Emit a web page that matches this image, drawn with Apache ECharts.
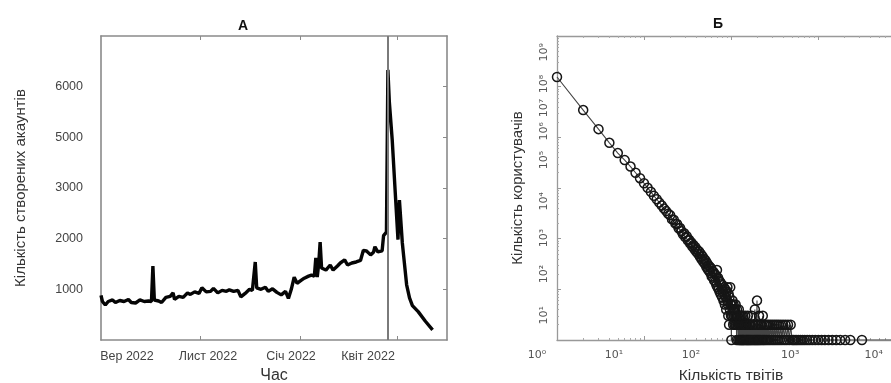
<!DOCTYPE html>
<html>
<head>
<meta charset="utf-8">
<script src="https://cdn.jsdelivr.net/npm/echarts@6/dist/echarts.min.js"></script>
<style>
  html, body { margin: 0; padding: 0; background: #fff; }
  #main { width: 891px; height: 383px; }
</style>
</head>
<body>
<div id="main"></div>
<script>
// ---- panel A: new accounts per day ----
var days = [0,1,3,5,8,10,13,16,19,21,24,27,30,33,35,36,37,40,42,45,48,50,51,54,57,60,62,65,68,70,
  73,76,78,81,84,87,89,92,95,97,100,103,105,107,108,111,114,116,119,122,125,128,130,132,134,136,
  139,141,144,146,148,149,150,151,152,153,156,159,161,164,166,169,171,174,177,180,182,184,187,189,
  190,192,195,196,198,199,200,202,204,206,207,209,210,212,214,216,220,225,230];
var accounts = [880,760,690,760,790,740,780,760,800,740,730,790,760,770,760,1460,790,770,740,840,860,930,800,860,840,930,900,950,920,1030,
  950,960,1020,930,980,960,990,960,980,850,920,1000,980,1540,1030,1000,1040,960,1010,940,890,960,820,1000,1240,1120,
  1180,1220,1260,1280,1260,1620,1240,1500,1930,1420,1380,1480,1380,1460,1520,1580,1480,1520,1540,1570,1770,1760,1680,1730,
  1840,1740,1760,2060,2130,5330,4700,3950,2960,1980,2760,1920,1640,1090,830,680,560,370,200];
var markerDay = 199;
var monthLabels = ['Вер 2022', 'Лист 2022', 'Січ 2022', 'Квіт 2022'];
var countLabels = ['1000', '2000', '3000', '5000', '6000'];

// ---- panel Б: users by number of tweets ----
var tweets = [1,2,3,4,5,6,7,8,9,10,11,12,13,14,15,16,17,18,19,20,21,22,23,24,25,26,27,28,29,30,
  31,32,33,34,35,36,37,38,39,40,41,42,43,44,45,46,47,48,49,50,51,52,53,54,55,56,57,58,59,60,
  61,62,63,64,65,66,67,68,69,70,71,72,73,74,75,76,77,78,79,80,81,82,83,84,85,86,87,88,89,90,
  91,92,93,94,95,96,97,98,99,100,101,102,103,104,105,106,107,108,109,110,111,112,113,114,115,116,117,118,119,120,
  121,122,123,124,125,126,127,128,129,130,131,132,133,134,135,137,138,139,140,142,143,145,146,148,150,151,153,155,156,158,
  160,162,164,166,168,170,173,175,178,180,183,186,188,190,193,196,199,201,204,207,210,213,217,220,224,228,232,236,240,245,
  250,255,261,267,273,280,287,295,302,310,318,326,335,344,353,363,374,385,397,410,423,437,452,468,485,503,523,545,570,598,
  630,665,705,750,800,860,930,1010,1100,1200,1320,1460,1620,1800,2050,2350,3200,9000];
var users = [155000,34500,14500,7800,4900,3550,2650,2000,1560,1240,1010,840,700,600,515,452,392,350,310,290,240,236,198,195,160,163,140,122,128,106,
  112,92,95,80,84,70,75,62,68,55,60,50,56,44,50,39,45,35,40,32,37,28,33,25,30,23,28,21,26,18,
  23,17,22,15,20,14,19,12,24,11,17,10,15,9,14,8,13,10,7,12,9,6,11,8,5,10,7,4,9,6,
  11,5,3,8,2,7,4,11,5,3,1,5,3,6,4,2,5,3,4,2,4,3,5,2,3,1,4,2,3,3,
  1,2,4,2,1,3,2,1,3,2,1,2,3,1,2,1,3,2,1,2,1,2,3,1,2,1,2,1,3,1,
  2,1,2,1,2,1,3,1,2,1,2,1,4,1,2,1,6,1,2,1,3,1,2,1,2,1,3,1,2,1,
  2,1,2,1,2,1,2,1,2,1,2,1,2,1,2,1,2,1,2,1,2,1,2,1,2,1,1,1,1,1,
  1,1,1,1,1,1,1,1,1,1,1,1,1,1,1,1,1,1];
var xPowLabels = ['10⁰', '10¹', '10²', '10³', '10⁴'];
var yPowLabels = ['10¹', '10²', '10³', '10⁴', '10⁵', '10⁶', '10⁷', '10⁸', '10⁹'];

var dayTicks = [68.7, 138, 205.3];
var dayLabelPos = [18, 74.2, 131.8, 185.2];
var countPos = [1000, 2000, 3000, 4000, 5000];
var xPowPos = [-0.23, 0.655, 1.54, 2.68, 3.64];
var yPowPos = [0.49, 1.30, 2.01, 2.74, 3.55, 4.12, 4.58, 5.05, 5.68];

function pick(list, pos, v) {
  for (var i = 0; i < pos.length; i++) {
    if (Math.abs(pos[i] - v) < 0.01) return list[i];
  }
  return '';
}

var lineA = days.map(function (d, i) { return [d, accounts[i]]; });
var pointsB = tweets.map(function (t, i) { return [t, users[i]]; });

var frame = { show: true, onZero: false, lineStyle: { color: '#8a8a8a', width: 1.6 } };
var frameB = { show: true, onZero: false, lineStyle: { color: '#999', width: 1.3 } };

var chart = echarts.init(document.getElementById('main'));
chart.setOption({
  animation: false,
  title: [
    { text: 'А', left: 233, top: 14, textStyle: { fontSize: 14, fontWeight: 'bold', color: '#111', fontFamily: 'Liberation Sans' } },
    { text: 'Б', left: 708, top: 12, textStyle: { fontSize: 14, fontWeight: 'bold', color: '#111', fontFamily: 'Liberation Sans' } }
  ],
  grid: [
    { left: 101, top: 36, right: 444, bottom: 43, outerBoundsMode: 'none' },
    { left: 557, top: 36, right: -14, bottom: 43, outerBoundsMode: 'none' },
    { left: 517, top: 36, right: -14, bottom: 43, outerBoundsMode: 'none' }
  ],
  xAxis: [
    { gridIndex: 0, type: 'value', min: 0, max: 240, axisLine: frame, splitLine: { show: false },
      axisTick: { inside: true, length: 4, lineStyle: { color: '#8a8a8a' }, customValues: dayTicks },
      axisLabel: { customValues: dayLabelPos, fontSize: 12.5, color: '#444', fontFamily: 'Liberation Sans', margin: 10,
        formatter: function (v) { return pick(monthLabels, dayLabelPos, v); } },
      name: 'Час', nameLocation: 'middle', nameGap: 28,
      nameTextStyle: { fontSize: 16, color: '#333', fontFamily: 'Liberation Sans' } },
    { gridIndex: 0, type: 'value', position: 'top', min: 0, max: 240, axisLine: frame, splitLine: { show: false },
      axisTick: { inside: true, length: 4, lineStyle: { color: '#8a8a8a' }, customValues: dayTicks },
      axisLabel: { show: false } },
    { gridIndex: 1, type: 'log', logBase: 10, min: 1, max: 10000, splitNumber: 4,
      axisLine: frameB, splitLine: { show: false },
      axisTick: { inside: true, length: 4, lineStyle: { color: '#999' } },
      minorTick: { show: true, splitNumber: 9, length: 2, lineStyle: { color: '#aaa' } },
      axisLabel: { show: false },
      name: 'Кількість твітів', nameLocation: 'middle', nameGap: 28,
      nameTextStyle: { fontSize: 15.5, color: '#333', fontFamily: 'Liberation Sans' } },
    { gridIndex: 1, type: 'log', logBase: 10, position: 'top', min: 1, max: 10000, splitNumber: 4,
      axisLine: frameB, splitLine: { show: false },
      axisTick: { inside: true, length: 4, lineStyle: { color: '#999' } },
      minorTick: { show: true, splitNumber: 9, length: 2, lineStyle: { color: '#aaa' } },
      axisLabel: { show: false } },
    { gridIndex: 2, type: 'value', min: -0.46, max: 4, axisLine: { show: false, onZero: false }, axisTick: { show: false },
      splitLine: { show: false },
      axisLabel: { customValues: xPowPos, fontSize: 11, color: '#555', fontFamily: 'DejaVu Sans', margin: 10,
        formatter: function (v) { return pick(xPowLabels, xPowPos, v); } } }
  ],
  yAxis: [
    { gridIndex: 0, type: 'value', position: 'left', min: 0, max: 6000, axisLine: frame, splitLine: { show: false },
      axisTick: { show: false },
      axisLabel: { customValues: countPos, fontSize: 12.5, color: '#444', fontFamily: 'Liberation Sans', margin: 18,
        formatter: function (v) { return pick(countLabels, countPos, v); } },
      name: 'Кількість створених акаунтів', nameLocation: 'middle', nameGap: 73,
      nameTextStyle: { fontSize: 15, color: '#333', fontFamily: 'Liberation Sans', padding: [0, 0, 0, 0] } },
    { gridIndex: 0, type: 'value', position: 'right', min: 0, max: 6000, axisLine: frame, splitLine: { show: false },
      axisTick: { inside: true, length: 4, lineStyle: { color: '#8a8a8a' }, customValues: countPos },
      axisLabel: { show: false } },
    { gridIndex: 1, type: 'log', logBase: 10, position: 'left', min: 1, max: 1000000, splitNumber: 6,
      axisLine: frameB, splitLine: { show: false },
      axisTick: { inside: true, length: 4, lineStyle: { color: '#999' } },
      minorTick: { show: true, splitNumber: 9, length: 2, lineStyle: { color: '#aaa' } },
      axisLabel: { show: false },
      name: 'Кількість користувачів', nameLocation: 'middle', nameGap: 32,
      nameTextStyle: { fontSize: 15, color: '#333', fontFamily: 'Liberation Sans' } },
    { gridIndex: 1, type: 'value', position: 'left', min: 0, max: 6, axisLine: { show: false, onZero: false },
      axisTick: { show: false }, splitLine: { show: false },
      axisLabel: { customValues: yPowPos, rotate: 90, fontSize: 11, color: '#555', fontFamily: 'DejaVu Sans', margin: 7,
        formatter: function (v) { return pick(yPowLabels, yPowPos, v); } } },
    { gridIndex: 2, type: 'value', show: false }
  ],
  series: [
    { type: 'line', xAxisIndex: 0, yAxisIndex: 0, data: lineA, showSymbol: false,
      lineStyle: { color: '#050505', width: 3.4 },
      markLine: { silent: true, symbol: 'none', label: { show: false },
        lineStyle: { color: '#7a7a7a', width: 2, type: 'solid' }, data: [{ xAxis: markerDay }] } },
    { type: 'line', xAxisIndex: 2, yAxisIndex: 2, data: pointsB, showSymbol: true, showAllSymbol: true,
      symbol: 'circle', symbolSize: 9,
      itemStyle: { color: 'rgba(0,0,0,0)', borderColor: '#161616', borderWidth: 1.5 },
      lineStyle: { color: '#444', width: 1.1 } }
  ]
});
</script>
</body>
</html>
